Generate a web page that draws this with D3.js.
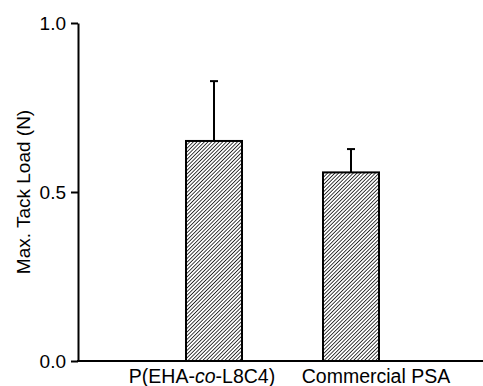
<!DOCTYPE html>
<html>
<head>
<meta charset="utf-8">
<script src="https://cdn.jsdelivr.net/npm/d3@7"></script>
<style>
  body { margin: 0; background: #fff; }
  svg { display: block; font-family: Arial, "Liberation Sans", sans-serif; }
</style>
</head>
<body>
<svg id="chart" width="483" height="386"></svg>
<script>
// datos
const categories = ["P(EHA-co-L8C4)", "Commercial PSA"]
const means = [0.651, 0.558]
const errors = [0.177, 0.069]
const yTicks = [0.0, 0.5, 1.0]

const data = categories.map((c, i) => ({ name: c, value: means[i], err: errors[i] }))

const svg = d3.select("#chart")

const x = d3.scalePoint()
  .domain(categories)
  .range([214, 351])

const y = d3.scaleLinear()
  .domain([0, 1])
  .range([361, 23])

const barWidth = 56
const labelShift = [-12, 25] // las etiquetas no quedan centradas en las barras

// patron de rayas diagonales
const defs = svg.append("defs")
const pat = defs.append("pattern")
  .attr("id", "hatch")
  .attr("patternUnits", "userSpaceOnUse")
  .attr("width", 2.6)
  .attr("height", 2.6)
  .attr("patternTransform", "rotate(45)")
pat.append("rect").attr("width", 2.6).attr("height", 2.6).attr("fill", "#fff")
pat.append("line")
  .attr("x1", 0).attr("y1", 0).attr("x2", 0).attr("y2", 2.6)
  .attr("stroke", "#000").attr("stroke-width", 1.5)

// barras de error (solo hacia arriba)
const eb = svg.append("g").selectAll("g")
  .data(data)
  .join("g")
eb.append("line")
  .attr("x1", d => x(d.name)).attr("x2", d => x(d.name))
  .attr("y1", d => y(d.value)).attr("y2", d => y(d.value + d.err))
  .attr("stroke", "#000").attr("stroke-width", 2)
eb.append("line")
  .attr("x1", d => x(d.name) - 4).attr("x2", d => x(d.name) + 4)
  .attr("y1", d => y(d.value + d.err)).attr("y2", d => y(d.value + d.err))
  .attr("stroke", "#000").attr("stroke-width", 2)

svg.append("g").selectAll("rect")
  .data(data)
  .join("rect")
  .attr("x", d => x(d.name) - barWidth / 2)
  .attr("y", d => y(d.value))
  .attr("width", barWidth)
  .attr("height", d => y(0) - y(d.value))
  .attr("fill", "url(#hatch)")
  .attr("stroke", "#000")
  .attr("stroke-width", 2)

// eje y
const yAxis = svg.append("g")
  .attr("transform", "translate(78,0)")
  .call(d3.axisLeft(y).tickValues(yTicks).tickFormat(d3.format(".1f")).tickSize(7).tickSizeOuter(0).tickPadding(5))
yAxis.selectAll("path, line").attr("stroke", "#000").attr("stroke-width", 2)
yAxis.selectAll("text").attr("font-size", 19).attr("fill", "#000")

// eje x, solo la linea
svg.append("line")
  .attr("x1", 77).attr("x2", 483)
  .attr("y1", y(0)).attr("y2", y(0))
  .attr("stroke", "#000").attr("stroke-width", 2)

// etiquetas de categorias
const lab = svg.append("g").selectAll("text")
  .data(categories)
  .join("text")
  .attr("x", (d, i) => x(d) + labelShift[i])
  .attr("y", 383)
  .attr("text-anchor", "middle")
  .attr("font-size", 19.5)
lab.each(function(d) {
  const t = d3.select(this)
  if (d.includes("-co-")) {
    const parts = d.split("-co-")
    t.append("tspan").text(parts[0] + "-")
    t.append("tspan").attr("font-style", "italic").text("co")
    t.append("tspan").text("-" + parts[1])
  } else {
    t.text(d)
  }
})

svg.append("text")
  .attr("transform", "rotate(-90)")
  .attr("x", -192)
  .attr("y", 30)
  .attr("text-anchor", "middle")
  .attr("font-size", 19)
  .text("Max. Tack Load (N)")
</script>
</body>
</html>
